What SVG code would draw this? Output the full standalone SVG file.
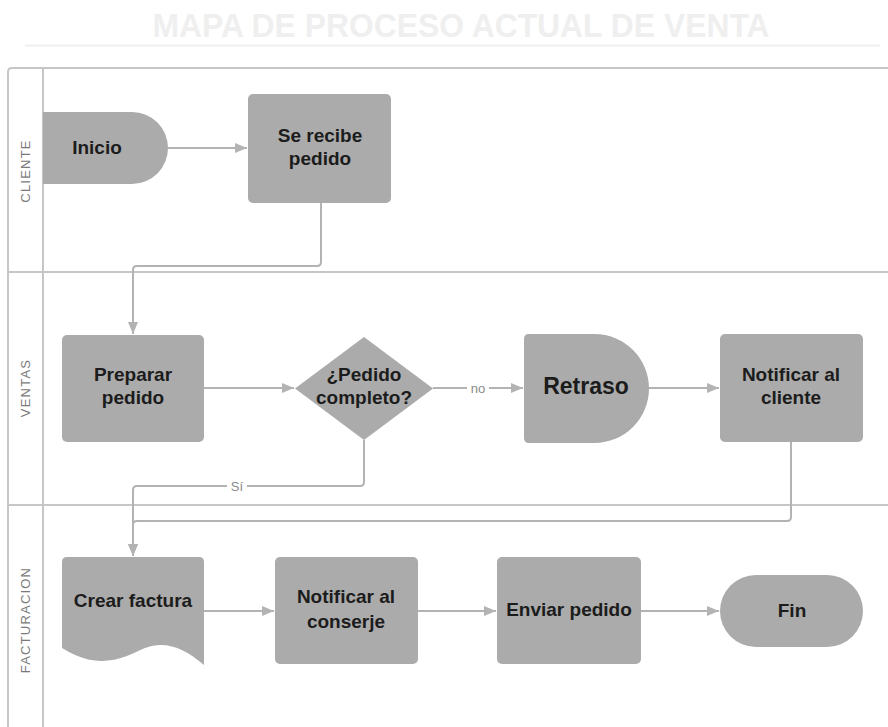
<svg xmlns="http://www.w3.org/2000/svg" width="888" height="727" viewBox="0 0 888 727">
  <defs>
    <style>
      .lane { fill: none; stroke: #c6c6c6; stroke-width: 2; }
      .lane-label { font-family: "Liberation Sans", Arial, sans-serif; font-size: 13px; fill: #7a7a7a; letter-spacing: 1.2px; text-anchor: middle; }
      .shape { fill: #ababab; }
      .label { font-family: "Liberation Sans", Arial, sans-serif; font-weight: bold; font-size: 19px; fill: #1c1c1c; text-anchor: middle; }
      .conn { fill: none; stroke: #b3b3b3; stroke-width: 2; }
      .edge-label { font-family: "Liberation Sans", Arial, sans-serif; font-size: 13px; fill: #8a8a8a; text-anchor: middle; }
    </style>
    <marker id="arrow" markerUnits="userSpaceOnUse" markerWidth="14" markerHeight="12" refX="12" refY="5" orient="auto">
      <path d="M0,0 L12,5 L0,10 Z" fill="#b3b3b3"/>
    </marker>
  </defs>

  <rect width="888" height="727" fill="#ffffff"/>

  <!-- title -->
  <g id="title">
    <text x="461" y="37" font-family="'Liberation Sans', Arial, sans-serif" font-weight="bold" font-size="33" fill="#efefef" text-anchor="middle" textLength="617" lengthAdjust="spacingAndGlyphs">MAPA DE PROCESO ACTUAL DE VENTA</text>
    <line x1="25" y1="45.5" x2="880" y2="45.5" stroke="#efefef" stroke-width="2"/>
  </g>

  <!-- swimlanes -->
  <g id="lanes">
    <path class="lane" d="M890,68 H12 Q8,68 8,72 V730"/>
    <line class="lane" x1="43" y1="68" x2="43" y2="730"/>
    <line class="lane" x1="8" y1="272" x2="890" y2="272"/>
    <line class="lane" x1="8" y1="505" x2="890" y2="505"/>
    <text class="lane-label" transform="translate(29.5,171) rotate(-90)">CLIENTE</text>
    <text class="lane-label" transform="translate(29.5,388) rotate(-90)">VENTAS</text>
    <text class="lane-label" transform="translate(29.5,620) rotate(-90)">FACTURACION</text>
  </g>

  <!-- connectors -->
  <g id="connectors">
    <path class="conn" d="M168,148 H247" marker-end="url(#arrow)"/>
    <path class="conn" d="M321,203 V262 Q321,266 317,266 H137 Q133,266 133,270 V334" marker-end="url(#arrow)"/>
    <path class="conn" d="M204,388 H294" marker-end="url(#arrow)"/>
    <path class="conn" d="M433,388 H523" marker-end="url(#arrow)"/>
    <path class="conn" d="M649,388 H719" marker-end="url(#arrow)"/>
    <path class="conn" d="M364,440 V482 Q364,486 360,486 H137 Q133,486 133,490 V556" marker-end="url(#arrow)"/>
    <path class="conn" d="M791,442 V517 Q791,521 787,521 H137 Q133,521 133,525 V556" marker-end="url(#arrow)"/>
    <path class="conn" d="M204,611 H274" marker-end="url(#arrow)"/>
    <path class="conn" d="M418,611 H496" marker-end="url(#arrow)"/>
    <path class="conn" d="M641,611 H719" marker-end="url(#arrow)"/>
    <rect x="467" y="380" width="22" height="16" fill="#ffffff"/>
    <text class="edge-label" x="478" y="393">no</text>
    <rect x="227" y="478" width="20" height="16" fill="#ffffff"/>
    <text class="edge-label" x="237" y="491">Sí</text>
  </g>

  <!-- CLIENTE lane -->
  <g id="inicio">
    <path class="shape" d="M43,112 H132 A36,36 0 0 1 132,184 H43 Z"/>
    <text class="label" x="97" y="154">Inicio</text>
  </g>
  <g id="se-recibe-pedido">
    <rect class="shape" x="248" y="94" width="143" height="109" rx="5"/>
    <text class="label" x="320" y="142">Se recibe</text>
    <text class="label" x="320" y="165">pedido</text>
  </g>

  <!-- VENTAS lane -->
  <g id="preparar-pedido">
    <rect class="shape" x="62" y="335" width="142" height="107" rx="5"/>
    <text class="label" x="133" y="381">Preparar</text>
    <text class="label" x="133" y="404">pedido</text>
  </g>
  <g id="pedido-completo">
    <path class="shape" d="M364,337 L433,388.5 L364,440 L295,388.5 Z"/>
    <text class="label" x="364" y="381">¿Pedido</text>
    <text class="label" x="364" y="404">completo?</text>
  </g>
  <g id="retraso">
    <path class="shape" d="M529,334 H594.5 A54.5,54.5 0 0 1 594.5,443 H529 Q524,443 524,438 V339 Q524,334 529,334 Z"/>
    <text class="label" x="586" y="394" style="font-size:23px">Retraso</text>
  </g>
  <g id="notificar-cliente">
    <rect class="shape" x="720" y="334" width="143" height="108" rx="5"/>
    <text class="label" x="791" y="381">Notificar al</text>
    <text class="label" x="791" y="404">cliente</text>
  </g>

  <!-- FACTURACION lane -->
  <g id="crear-factura">
    <path class="shape" d="M67,557 H199 Q204,557 204,562 V665 C185,648 165,640 145,648 C125,657 100,672 62,648 V562 Q62,557 67,557 Z"/>
    <text class="label" x="133" y="607">Crear factura</text>
  </g>
  <g id="notificar-conserje">
    <rect class="shape" x="275" y="557" width="143" height="107" rx="5"/>
    <text class="label" x="346" y="603">Notificar al</text>
    <text class="label" x="346" y="628">conserje</text>
  </g>
  <g id="enviar-pedido">
    <rect class="shape" x="497" y="557" width="144" height="107" rx="5"/>
    <text class="label" x="569" y="616">Enviar pedido</text>
  </g>
  <g id="fin">
    <rect class="shape" x="720" y="575" width="143" height="72" rx="36"/>
    <text class="label" x="792" y="617">Fin</text>
  </g>
</svg>
